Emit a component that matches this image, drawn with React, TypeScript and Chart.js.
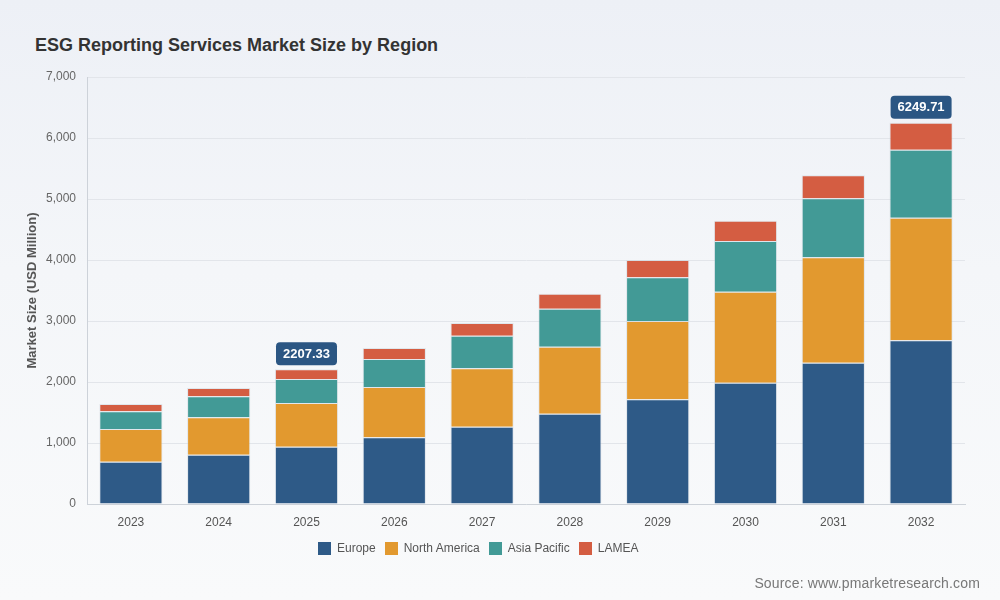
import React, { useEffect, useRef } from "react";
import { Chart, registerables } from "chart.js";

Chart.register(...registerables);

const years = ["2023", "2024", "2025", "2026", "2027", "2028", "2029", "2030", "2031", "2032"];
const europe = [693, 808, 940, 1093, 1268, 1481, 1716, 1989, 2317, 2683];
const northAmerica = [536, 613, 716, 825, 956, 1098, 1284, 1492, 1727, 2011];
const asiaPacific = [291, 344, 393, 459, 536, 623, 716, 830, 967, 1115];
const lamea = [119, 137, 158.33, 180, 207, 246, 284, 334, 377, 440.71];
const highlightYears = ["2025", "2032"];
const yTicks = [0, 1000, 2000, 3000, 4000, 5000, 6000, 7000];

const seriesNames = ["Europe", "North America", "Asia Pacific", "LAMEA"];
const seriesColors = ["#2e5a87", "#e2992f", "#429a96", "#d45d42"];
const seriesData = [europe, northAmerica, asiaPacific, lamea];

const FONT = "'Liberation Sans', Arial, Helvetica, sans-serif";

const totalLabelPlugin = {
  id: "totalLabels",
  afterDatasetsDraw(chart: any) {
    const { ctx, scales } = chart;
    const xs = scales.x;
    const ys = scales.y;
    ctx.save();
    ctx.font = `bold 13px ${FONT}`;
    ctx.textAlign = "center";
    ctx.textBaseline = "middle";
    highlightYears.forEach((yr) => {
      const i = years.indexOf(yr);
      if (i < 0) return;
      const total = seriesData.reduce((s, arr) => s + arr[i], 0);
      const text = total.toFixed(2);
      const x = xs.getPixelForValue(i);
      const yTop = ys.getPixelForValue(total);
      const w = ctx.measureText(text).width + 14;
      const h = 23;
      const bx = x - w / 2;
      const by = yTop - 4 - h;
      ctx.fillStyle = "#2b5683";
      ctx.beginPath();
      (ctx as any).roundRect(bx, by, w, h, 4);
      ctx.fill();
      ctx.fillStyle = "#ffffff";
      ctx.fillText(text, x, by + h / 2 + 0.5);
    });
    ctx.restore();
  },
};

function ChartView() {
  const ref = useRef<HTMLCanvasElement | null>(null);
  useEffect(() => {
    if (!ref.current) return;
    const chart = new Chart(ref.current, {
      type: "bar",
      data: {
        labels: years,
        datasets: seriesData.map((d, k) => ({
          label: seriesNames[k],
          data: d,
          backgroundColor: seriesColors[k],
          borderColor: "rgba(200,210,220,0.45)",
          borderWidth: 1,
          categoryPercentage: 0.8,
          barPercentage: 0.9,
        })),
      },
      options: {
        responsive: false,
        animation: false,
        devicePixelRatio: 1,
        layout: { padding: { left: 21, right: 35, top: 77, bottom: 66 } },
        plugins: {
          legend: { display: false },
          title: { display: false },
          tooltip: { enabled: false },
        },
        scales: {
          x: {
            stacked: true,
            grid: { display: false, drawTicks: false },
            border: { color: "#cdd2d9", width: 1 },
            ticks: { color: "#555", font: { family: FONT, size: 12 }, padding: 11 },
            afterFit: (s: any) => {
              s.height = 30;
            },
          },
          y: {
            stacked: true,
            min: 0,
            max: 7000,
            afterBuildTicks: (s: any) => {
              s.ticks = yTicks.map((v) => ({ value: v }));
            },
            grid: { color: "#e2e5ea", drawTicks: false },
            border: { color: "#cdd2d9", width: 1 },
            ticks: {
              color: "#666",
              font: { family: FONT, size: 12 },
              padding: 11,
              callback: (v: any) => Number(v).toLocaleString("en-US"),
            },
            title: {
              display: true,
              text: "Market Size (USD Million)",
              color: "#555",
              font: { family: FONT, size: 13, weight: "bold" },
            },
            afterFit: (s: any) => {
              s.width = 66;
            },
          },
        },
      },
      plugins: [totalLabelPlugin],
    } as any);
    return () => chart.destroy();
  }, []);
  return <canvas ref={ref} width={1000} height={600} style={{ position: "absolute", left: 0, top: 0 }} />;
}

export default function App() {
  return (
    <div
      style={{
        position: "absolute",
        left: 0,
        top: 0,
        width: 1000,
        height: 600,
        overflow: "hidden",
        background: "linear-gradient(180deg, #edf0f6 0%, #f4f6f9 45%, #f9fafb 100%)",
        fontFamily: FONT,
      }}
    >
      <div
        style={{
          position: "absolute",
          left: 35,
          top: 36,
          fontSize: 18,
          lineHeight: "18px",
          fontWeight: "bold",
          color: "#333",
          whiteSpace: "nowrap",
        }}
      >
        ESG Reporting Services Market Size by Region
      </div>
      <ChartView />
      <div
        style={{
          position: "absolute",
          left: 318,
          top: 541,
          display: "flex",
          alignItems: "center",
          fontSize: 12,
          lineHeight: "14px",
          color: "#555",
          whiteSpace: "nowrap",
        }}
      >
        {seriesNames.map((n, k) => (
          <div key={n} style={{ display: "flex", alignItems: "center", marginRight: 9 }}>
            <span
              style={{
                display: "inline-block",
                width: 13,
                height: 13,
                background: seriesColors[k],
                marginRight: 6,
              }}
            />
            <span>{n}</span>
          </div>
        ))}
      </div>
      <div
        style={{
          position: "absolute",
          right: 20,
          top: 575,
          fontSize: 14,
          lineHeight: "16px",
          color: "#777",
          whiteSpace: "nowrap",
          letterSpacing: "0.15px",
        }}
      >
        Source: www.pmarketresearch.com
      </div>
    </div>
  );
}
